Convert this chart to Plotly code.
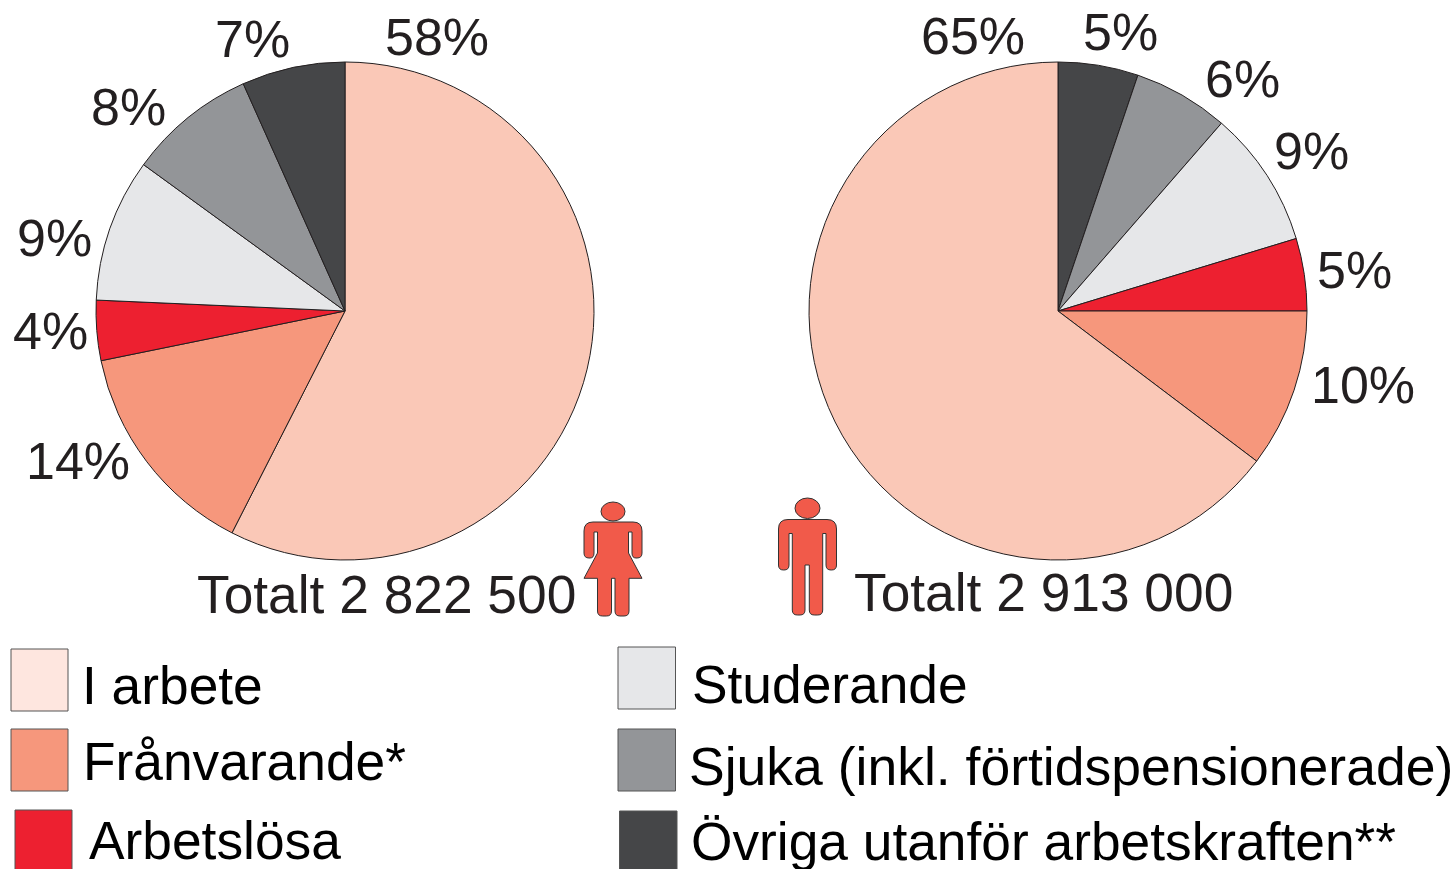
import plotly.graph_objects as go

W, H = 1456, 869

categories = ["I arbete", "Frånvarande*", "Arbetslösa", "Studerande",
              "Sjuka (inkl. förtidspensionerade)", "Övriga utanför arbetskraften**"]
pie_colors = ["#fac8b7", "#f6977c", "#ed2030", "#e6e7e9", "#939598", "#454648"]
legend_colors = ["#fee6df", "#f6977c", "#ed2030", "#e6e7e9", "#939598", "#454648"]

women_values = [57.5, 14.3, 3.9, 9.3, 8.3, 6.7]
women_labels = ["58%", "14%", "4%", "9%", "8%", "7%"]
women_label_xy = [(437, 37), (78, 461), (50, 331), (54, 238), (128, 107), (252, 39)]
women_total = "Totalt 2 822 500"

men_values = [64.7, 10.3, 4.7, 8.9, 6.2, 5.2]
men_labels = ["65%", "10%", "5%", "9%", "6%", "5%"]
men_label_xy = [(973, 36), (1363, 385), (1354, 270), (1311, 151), (1242, 79), (1120, 32)]
men_total = "Totalt 2 913 000"

# left x, top y, right x, bottom y, text x, text y, font size
legend_layout = [
    (11, 649, 68, 711, 80, 685, 53.3),
    (11, 729, 68, 791, 81, 761, 53.3),
    (15, 810, 72, 875, 87, 840, 53.3),
    (618, 647, 675.5, 709, 690, 684, 53.3),
    (618, 729, 675.5, 791, 687, 766, 53.5),
    (619.5, 811, 677, 875, 689, 841, 53.3),
]

INK = "#231f20"
FONT = "Liberation Sans"
PERSON = "#f15a4a"

female_path = (
    "M 593 522 L 633 522 Q 642 522 642 531 L 642 553 Q 642 558 637 558 L 636 558 "
    "Q 632 558 632 553 L 632 532 L 628.5 532 L 628.5 553 L 642 578.3 L 629 578.3 "
    "L 629 611 Q 629 616 624 616 L 620 616 Q 615 616 615 611 L 615 578.3 L 611.5 578.3 "
    "L 611.5 611 Q 611.5 616 606.5 616 L 602.5 616 Q 597.5 616 597.5 611 L 597.5 578.3 "
    "L 584 578.3 L 597.5 553 L 597.5 532 L 594 532 L 594 553 Q 594 558 590 558 L 589 558 "
    "Q 584 558 584 553 L 584 531 Q 584 522 593 522 Z"
)
male_path = (
    "M 788 519.5 L 827 519.5 Q 836.5 519.5 836.5 529 L 836.5 565 Q 836.5 570 831.5 570 "
    "L 831 570 Q 826 570 826 565 L 826 533.5 L 822.7 533.5 L 822.7 610 Q 822.7 615 817.7 615 "
    "L 814.3 615 Q 809.3 615 809.3 610 L 809.3 565 L 805 565 L 805 610 Q 805 615 800 615 "
    "L 797.3 615 Q 792.3 615 792.3 610 L 792.3 533.5 L 789 533.5 L 789 565 Q 789 570 784 570 "
    "L 783.5 570 Q 778.5 570 778.5 565 L 778.5 529 Q 778.5 519.5 788 519.5 Z"
)


def pie(cats, values, colors, x0, x1, name):
    return go.Pie(
        labels=cats, values=values, name=name,
        sort=False, direction="clockwise", rotation=0,
        marker=dict(colors=colors, line=dict(color=INK, width=1)),
        textinfo="none", hoverinfo="label+percent",
        domain=dict(x=[x0 / W, x1 / W], y=[(H - 560) / H, (H - 62) / H]),
        showlegend=False,
    )


fig = go.Figure([
    pie(categories, women_values, pie_colors, 96, 594, "Kvinnor"),
    # the men's pie runs clockwise from the top in the reverse category order
    pie(categories[::-1], men_values[::-1], pie_colors[::-1], 809, 1307, "Män"),
])

annotations = []


def add_text(text, x, y, size, color=INK, anchor="center"):
    annotations.append(dict(
        text=text, x=x, y=y, xref="x", yref="y", xanchor=anchor, yanchor="middle",
        showarrow=False, font=dict(family=FONT, size=size, color=color),
    ))


for text, (x, y) in zip(women_labels + men_labels, women_label_xy + men_label_xy):
    add_text(text, x, y, 52)
add_text(women_total, 195, 594, 53.3, anchor="left")
add_text(men_total, 852, 592, 53.3, anchor="left")

shapes = []
for name, color, (x0, y0, x1, y1, tx, ty, size) in zip(categories, legend_colors, legend_layout):
    shapes.append(dict(type="rect", xref="x", yref="y", x0=x0, y0=y0, x1=x1, y1=y1,
                       fillcolor=color, line=dict(color="#555555", width=1)))
    add_text(name, tx, ty, size, color="#000000", anchor="left")

person_line = dict(color="#333333", width=1)
shapes += [
    dict(type="path", xref="x", yref="y", path=female_path, fillcolor=PERSON, line=person_line),
    dict(type="circle", xref="x", yref="y", x0=601, y0=502, x1=625, y1=521,
         fillcolor=PERSON, line=person_line),
    dict(type="path", xref="x", yref="y", path=male_path, fillcolor=PERSON, line=person_line),
    dict(type="circle", xref="x", yref="y", x0=795, y0=498, x1=820, y1=518.5,
         fillcolor=PERSON, line=person_line),
]

fig.update_layout(
    width=W, height=H, margin=dict(l=0, r=0, t=0, b=0),
    paper_bgcolor="white", plot_bgcolor="white",
    xaxis=dict(range=[0, W], visible=False, fixedrange=True),
    yaxis=dict(range=[H, 0], visible=False, fixedrange=True),
    shapes=shapes, annotations=annotations,
)

fig.write_html("out.html", config=dict(displayModeBar=False),
               post_script="document.body.style.margin='0';")
